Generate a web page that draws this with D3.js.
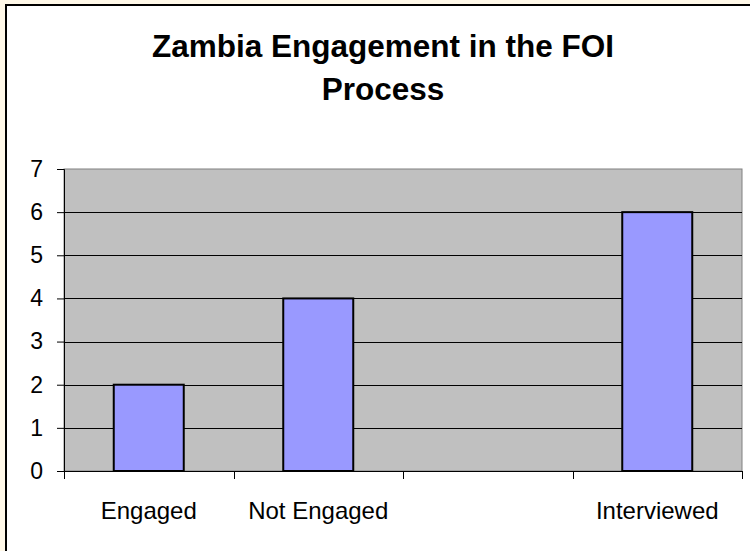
<!DOCTYPE html>
<html>
<head>
<meta charset="utf-8">
<script src="https://cdn.jsdelivr.net/npm/d3@7"></script>
<style>
  html, body { margin: 0; padding: 0; background: #FFF8E8; }
  svg { display: block; }
</style>
</head>
<body>
<script>
const titleLines = ["Zambia Engagement in the FOI", "Process"];
const categories = ["Engaged", "Not Engaged", "", "Interviewed"];
const values = [2, 4, null, 6];
const yTicks = [0, 1, 2, 3, 4, 5, 6, 7];

(function () {
const W = 750, H = 551;
const svg = d3.select("body").append("svg").attr("width", W).attr("height", H);

// outer frame
svg.append("rect").attr("x", 0).attr("y", 0).attr("width", W).attr("height", H).attr("fill", "#FFF8E8");
svg.append("rect").attr("x", 6).attr("y", 5).attr("width", W + 20).attr("height", H + 20)
  .attr("fill", "#fff").attr("stroke", "#000").attr("stroke-width", 2);

// title
svg.append("g").selectAll("text").data(titleLines).join("text")
  .attr("x", 383).attr("y", (d, i) => 57 + i * 43)
  .attr("text-anchor", "middle")
  .attr("font-family", "Liberation Sans, Arial, sans-serif")
  .attr("font-weight", "bold").attr("font-size", 31.5)
  .attr("fill", "#000").text(d => d);

const pL = 64, pR = 742, pT = 169, pB = 471;
const x = d3.scaleBand().domain(categories).range([pL, pR]).padding(0);
const y = d3.scaleLinear().domain([0, 7]).range([pB, pT]);

// plot area
svg.append("rect").attr("x", pL).attr("y", pT).attr("width", pR - pL).attr("height", pB - pT)
  .attr("fill", "#C0C0C0").attr("stroke", "#808080").attr("stroke-width", 1);

// gridlines
svg.append("g").selectAll("line").data(yTicks.filter(t => t > 0 && t < 7)).join("line")
  .attr("x1", pL).attr("x2", pR)
  .attr("y1", d => Math.round(y(d)) + 0.5).attr("y2", d => Math.round(y(d)) + 0.5)
  .attr("stroke", "#000").attr("stroke-width", 1);

// bars
const barW = x.bandwidth() * 0.413;
const data = categories.map((c, i) => ({ c, v: values[i] })).filter(d => d.v != null);
svg.append("g").selectAll("rect").data(data).join("rect")
  .attr("x", d => x(d.c) + (x.bandwidth() - barW) / 2)
  .attr("y", d => y(d.v))
  .attr("width", barW)
  .attr("height", d => y(0) - y(d.v))
  .attr("fill", "#9999FF").attr("stroke", "#000").attr("stroke-width", 2);

// y axis
const yAxis = svg.append("g").attr("transform", `translate(${pL},0)`)
  .call(d3.axisLeft(y).tickValues(yTicks).tickSize(7).tickPadding(14).tickFormat(d3.format("d")));
yAxis.select(".domain").attr("stroke", "#000");
yAxis.selectAll(".tick line").attr("stroke", "#000");
yAxis.selectAll("text").attr("font-family", "Liberation Sans, Arial, sans-serif")
  .attr("font-size", 23).attr("fill", "#000");

// x axis
const boundaries = categories.map(c => x(c)).concat([pR]);
const xg = svg.append("g");
xg.append("line").attr("x1", pL).attr("x2", pR).attr("y1", pB + 0.5).attr("y2", pB + 0.5)
  .attr("stroke", "#000").attr("stroke-width", 1);
xg.selectAll("line.tk").data(boundaries).join("line").attr("class", "tk")
  .attr("x1", d => Math.round(d) + 0.5).attr("x2", d => Math.round(d) + 0.5)
  .attr("y1", pB).attr("y2", pB + 8)
  .attr("stroke", "#000").attr("stroke-width", 1);
xg.selectAll("text").data(categories).join("text")
  .attr("x", d => x(d) + x.bandwidth() / 2).attr("y", 519)
  .attr("text-anchor", "middle")
  .attr("font-family", "Liberation Sans, Arial, sans-serif")
  .attr("font-size", 24).attr("fill", "#000").text(d => d);
})();
</script>
</body>
</html>
